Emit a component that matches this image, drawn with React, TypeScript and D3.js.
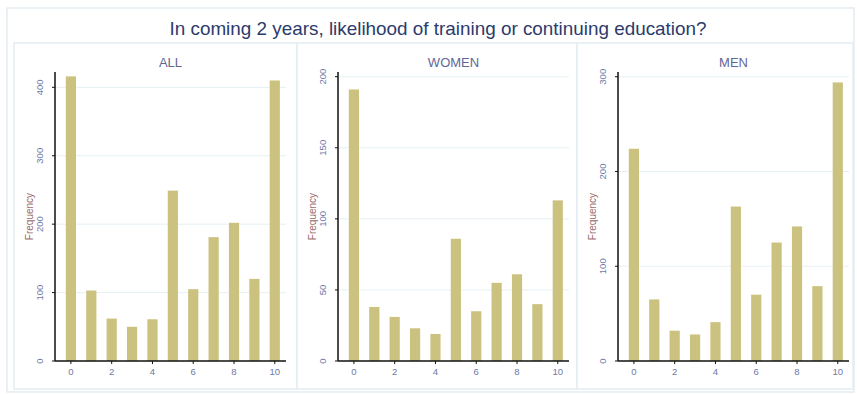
import React from "react";
import * as d3 from "d3";

const categories = [0, 1, 2, 3, 4, 5, 6, 7, 8, 9, 10];
const xTickValues = [0, 2, 4, 6, 8, 10];

const allValues = [416, 103, 62, 50, 61, 249, 105, 181, 202, 120, 410];
const womenValues = [191, 38, 31, 23, 19, 86, 35, 55, 61, 40, 113];
const menValues = [224, 65, 32, 28, 41, 163, 70, 125, 142, 79, 294];

const allTicks = [0, 100, 200, 300, 400];
const womenTicks = [0, 50, 100, 150, 200];
const menTicks = [0, 100, 200, 300];

const panelTitles = ["ALL", "WOMEN", "MEN"];
const chartTitle = "In coming 2 years, likelihood of training or continuing education?";
const yLabel = "Frequency";

const W = 857;
const H = 394;
const BAR = "#cbc27f";
const FRAME = "#e3edf2";
const GRID = "#e6f0f4";
const TICK_TEXT = "#6d78a6";
const FONT = "'Liberation Sans', Arial, sans-serif";

type Panel = {
  title: string;
  values: number[];
  ticks: number[];
  yMax: number;
  left: number;
  right: number;
};

const panels: Panel[] = [
  { title: panelTitles[0], values: allValues, ticks: allTicks, yMax: 422.4, left: 14, right: 297 },
  { title: panelTitles[1], values: womenValues, ticks: womenTicks, yMax: 203.3, left: 297, right: 577 },
  { title: panelTitles[2], values: menValues, ticks: menTicks, yMax: 305, left: 577, right: 853 },
];

const PLOT_TOP = 72;
const PLOT_BOTTOM = 361;
const PLOT_W = 231;

function PanelView({ p }: { p: Panel }) {
  const axisX = p.left + 41;
  const x = d3.scaleLinear().domain([-0.78, 10.55]).range([axisX, axisX + PLOT_W]);
  const y = d3.scaleLinear().domain([0, p.yMax]).range([PLOT_BOTTOM, PLOT_TOP]);
  const bw = x(0.5) - x(0);
  const cx = axisX + PLOT_W / 2;
  return (
    <g>
      <rect x={p.left} y={43} width={p.right - p.left} height={346} fill="#fff" stroke={FRAME} strokeWidth={1.5} />
      <text x={cx} y={62} textAnchor="middle" dominantBaseline="central" fontFamily={FONT} fontSize={13} fill="#5f6796">
        {p.title}
      </text>
      {p.ticks.filter((t) => t > 0).map((t) => (
        <line key={"g" + t} x1={axisX} x2={axisX + PLOT_W} y1={y(t)} y2={y(t)} stroke={GRID} strokeWidth={1} />
      ))}
      {categories.map((c, i) => (
        <rect key={"b" + c} x={x(c) - bw / 2} y={y(p.values[i])} width={bw} height={PLOT_BOTTOM - y(p.values[i])} fill={BAR} />
      ))}
      <line x1={axisX} x2={axisX} y1={PLOT_TOP} y2={PLOT_BOTTOM} stroke="#111" strokeWidth={1.5} />
      <line x1={axisX} x2={axisX + PLOT_W} y1={PLOT_BOTTOM} y2={PLOT_BOTTOM} stroke="#111" strokeWidth={1.5} />
      {p.ticks.map((t) => (
        <g key={"t" + t}>
          <line x1={axisX - 3} x2={axisX} y1={y(t)} y2={y(t)} stroke="#111" strokeWidth={1} />
          <text
            transform={`translate(${axisX - 15},${y(t)}) rotate(-90)`}
            textAnchor="middle"
            dy="0.35em"
            fontFamily={FONT}
            fontSize={9.5}
            fill={TICK_TEXT}
          >
            {t}
          </text>
        </g>
      ))}
      {xTickValues.map((t) => (
        <g key={"x" + t}>
          <line x1={x(t)} x2={x(t)} y1={PLOT_BOTTOM} y2={PLOT_BOTTOM + 3} stroke="#111" strokeWidth={1} />
          <text x={x(t)} y={372} textAnchor="middle" dy="0.35em" fontFamily={FONT} fontSize={9.5} fill={TICK_TEXT}>
            {t}
          </text>
        </g>
      ))}
      <text
        transform={`translate(${axisX - 26},${(PLOT_TOP + PLOT_BOTTOM) / 2}) rotate(-90)`}
        textAnchor="middle"
        dy="0.35em"
        fontFamily={FONT}
        fontSize={10}
        fill="#9a6a6a"
      >
        {yLabel}
      </text>
    </g>
  );
}

export default function App() {
  return (
    <svg width={W} height={H} style={{ position: "absolute", left: 0, top: 0 }}>
      <rect x={0} y={0} width={W} height={H} fill="#fff" />
      <rect x={7} y={8} width={847} height={384} fill="#fff" stroke={FRAME} strokeWidth={1.5} />
      <text
        x={438}
        y={28}
        textAnchor="middle"
        dominantBaseline="central"
        fontFamily={FONT}
        fontSize={18.5}
        textLength={537}
        lengthAdjust="spacingAndGlyphs"
        fill="#2c3a6c"
      >
        {chartTitle}
      </text>
      {panels.map((p) => (
        <PanelView key={p.title} p={p} />
      ))}
    </svg>
  );
}
